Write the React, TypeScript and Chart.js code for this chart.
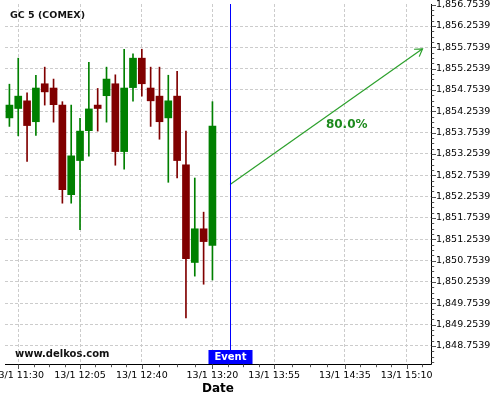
import React, { useEffect, useRef } from 'react';
import { Chart, registerables } from 'chart.js';

Chart.register(...registerables);

// ---------- data ----------
const SYMBOL = 'GC 5 (COMEX)';
const WATERMARK = 'www.delkos.com';
const DATE_PREFIX = '13/1';
const X_TITLE = 'Date';
const EVENT_LABEL = 'Event';
const PROBABILITY = '80.0%';

const TIMES = [
  '11:25', '11:30', '11:35', '11:40', '11:45', '11:50', '11:55', '12:00',
  '12:05', '12:10', '12:15', '12:20', '12:25', '12:30', '12:35', '12:40',
  '12:45', '12:50', '12:55', '13:00', '13:05', '13:10', '13:15', '13:20',
];
const OPEN = [
  1854.10, 1854.32, 1854.50, 1854.01, 1854.90, 1854.80, 1854.40, 1852.30,
  1853.10, 1853.80, 1854.40, 1854.62, 1854.90, 1853.31, 1854.81, 1855.50,
  1854.80, 1854.61, 1854.10, 1854.61, 1853.00, 1850.71, 1851.50, 1851.11,
];
const HIGH = [
  1854.89, 1855.50, 1854.69, 1855.10, 1855.29, 1855.01, 1854.48, 1854.40,
  1854.09, 1855.40, 1854.79, 1855.29, 1855.11, 1855.71, 1855.60, 1855.71,
  1855.29, 1855.29, 1855.10, 1855.19, 1853.79, 1852.69, 1851.89, 1854.48,
];
const LOW = [
  1853.90, 1853.68, 1853.08, 1853.69, 1854.40, 1854.00, 1852.10, 1852.10,
  1851.48, 1853.20, 1853.79, 1854.00, 1852.99, 1852.90, 1854.49, 1854.61,
  1853.90, 1853.60, 1852.59, 1852.69, 1849.41, 1850.39, 1850.20, 1850.30,
];
const CLOSE = [
  1854.40, 1854.61, 1853.92, 1854.80, 1854.71, 1854.41, 1852.42, 1853.21,
  1853.79, 1854.31, 1854.32, 1855.01, 1853.31, 1854.80, 1855.50, 1854.90,
  1854.50, 1854.01, 1854.50, 1853.10, 1850.80, 1851.50, 1851.20, 1853.91,
];

const X_TICK_TIMES = ['11:30', '12:05', '12:40', '13:20', '13:55', '14:35', '15:10'];
const Y_TICKS = [
  1848.7539, 1849.2539, 1849.7539, 1850.2539, 1850.7539, 1851.2539, 1851.7539,
  1852.2539, 1852.7539, 1853.2539, 1853.7539, 1854.2539, 1854.7539, 1855.2539,
  1855.7539, 1856.2539, 1856.7539,
];

const EVENT_TIME = '13:30';
const ARROW_START_TIME = '13:30';
const ARROW_START_PRICE = 1852.54;
const ARROW_END_TIME = '15:19';
const ARROW_END_PRICE = 1855.72;

// ---------- view / style ----------
const X_MIN = -7.5; // minutes relative to 11:30
const X_MAX = 233.8;
const Y_MIN = 1848.33;
const Y_MAX = 1856.77;
const FONT = 'DejaVu Sans';
const GREEN = '#008000';
const RED = '#800000';
const GRID = '#cccccc';
const ARROW_COLOR = '#2ca02c';
const TEXT_GREEN = '#1d8a1d';

const toMin = (t: string) => {
  const [h, m] = t.split(':').map(Number);
  return h * 60 + m - (11 * 60 + 30);
};
const fromMin = (v: number) => {
  const tot = Math.round(v) + 11 * 60 + 30;
  const h = Math.floor(tot / 60);
  const m = tot % 60;
  return `${h}:${String(m).padStart(2, '0')}`;
};

const X_MAJORS = X_TICK_TIMES.map(toMin);
const isMajorX = (v: number) => X_MAJORS.some((t) => Math.abs(t - v) < 1e-6);
const isMajorY = (v: number) => Y_TICKS.some((t) => Math.abs(t - v) < 1e-6);

const xTickValues = (() => {
  const out: number[] = [];
  for (let i = 0; i < X_MAJORS.length; i++) {
    out.push(X_MAJORS[i]);
    if (i < X_MAJORS.length - 1) {
      const a = X_MAJORS[i];
      const b = X_MAJORS[i + 1];
      for (let k = 1; k < 4; k++) out.push(a + ((b - a) * k) / 4);
    }
  }
  const last = X_MAJORS[X_MAJORS.length - 1];
  const prevStep = (last - X_MAJORS[X_MAJORS.length - 2]) / 4;
  for (let v = last + prevStep; v <= X_MAX; v += prevStep) out.push(v);
  return out;
})();

const yTickValues = (() => {
  const out: number[] = [];
  const step = (Y_TICKS[1] - Y_TICKS[0]) / 4;
  for (let v = Y_TICKS[0] - step * 4; v <= Y_MAX + 1e-9; v += step) {
    if (v >= Y_MIN) out.push(v);
  }
  return out;
})();

const fmtPrice = (v: number) =>
  v.toLocaleString('en-US', { minimumFractionDigits: 4, maximumFractionDigits: 4 });

const overlayPlugin = {
  id: 'overlay',
  afterDatasetsDraw(chart: any) {
    const { ctx, chartArea, scales } = chart;
    const xs = scales.x;
    ctx.save();

    // event line
    const ex = Math.round(xs.getPixelForValue(toMin(EVENT_TIME))) + 0.5;
    ctx.strokeStyle = '#0000ff';
    ctx.lineWidth = 1;
    ctx.beginPath();
    ctx.moveTo(ex, chartArea.top);
    ctx.lineTo(ex, chartArea.bottom);
    ctx.stroke();

    // arrow head
    const meta = chart.getDatasetMeta(2);
    const p0 = meta.data[0];
    const p1 = meta.data[1];
    const ang = Math.atan2(p1.y - p0.y, p1.x - p0.x);
    const L = 8.5;
    const spread = (32 * Math.PI) / 180;
    ctx.strokeStyle = ARROW_COLOR;
    ctx.lineWidth = 1.2;
    ctx.beginPath();
    ctx.moveTo(p1.x - L * Math.cos(ang - spread), p1.y - L * Math.sin(ang - spread));
    ctx.lineTo(p1.x, p1.y);
    ctx.lineTo(p1.x - L * Math.cos(ang + spread), p1.y - L * Math.sin(ang + spread));
    ctx.stroke();

    // probability text
    const t = 0.606;
    const tx = p0.x + (p1.x - p0.x) * t;
    const ty = p0.y + (p1.y - p0.y) * t + 23;
    ctx.fillStyle = TEXT_GREEN;
    ctx.font = `bold 12px "${FONT}"`;
    ctx.textAlign = 'center';
    ctx.textBaseline = 'middle';
    ctx.fillText(PROBABILITY, tx, ty);

    // event box
    ctx.font = `bold 10px "${FONT}"`;
    const w = ctx.measureText(EVENT_LABEL).width + 12;
    ctx.fillStyle = '#0000ff';
    ctx.fillRect(ex - w / 2, chartArea.bottom - 14, w, 14);
    ctx.fillStyle = '#ffffff';
    ctx.fillText(EVENT_LABEL, ex, chartArea.bottom - 6.5);

    // title + watermark
    ctx.fillStyle = '#111';
    ctx.textAlign = 'left';
    ctx.font = `bold 9.5px "${FONT}"`;
    ctx.fillText(SYMBOL, chartArea.left + 5, chartArea.top + 11.5);
    ctx.font = `bold 10px "${FONT}"`;
    ctx.fillText(WATERMARK, chartArea.left + 10, chartArea.bottom - 10);
    ctx.restore();
  },
  afterDraw(chart: any) {
    const { ctx, chartArea, scales } = chart;
    ctx.save();
    // axis lines
    ctx.strokeStyle = '#000';
    ctx.lineWidth = 1;
    ctx.setLineDash([]);
    ctx.beginPath();
    const by = Math.round(chartArea.bottom) + 0.5;
    const rx = Math.round(chartArea.right) + 0.5;
    ctx.moveTo(chartArea.left, by);
    ctx.lineTo(rx, by);
    ctx.moveTo(rx, chartArea.top);
    ctx.lineTo(rx, by);
    ctx.stroke();
    // tick marks
    ctx.strokeStyle = '#555';
    ctx.beginPath();
    scales.x.ticks.forEach((tk: any) => {
      const px = Math.round(scales.x.getPixelForValue(tk.value)) + 0.5;
      const len = isMajorX(tk.value) ? 4.5 : 2.7;
      ctx.moveTo(px, by);
      ctx.lineTo(px, by + len);
    });
    scales.y.ticks.forEach((tk: any) => {
      const py = Math.round(scales.y.getPixelForValue(tk.value)) + 0.5;
      const len = isMajorY(tk.value) ? 4.5 : 2.7;
      ctx.moveTo(rx, py);
      ctx.lineTo(rx + len, py);
    });
    ctx.stroke();
    ctx.restore();
  },
};

export default function App() {
  const ref = useRef<HTMLCanvasElement>(null);

  useEffect(() => {
    document.body.style.margin = '0';
    const canvas = ref.current;
    if (!canvas) return;
    const xs = TIMES.map(toMin);
    const colors = OPEN.map((o, i) => (CLOSE[i] >= o ? GREEN : RED));

    const chart = new Chart(canvas, {
      type: 'bar',
      data: {
        datasets: [
          {
            label: 'body',
            data: xs.map((x, i) => ({ x, y: [OPEN[i], CLOSE[i]] })) as any,
            backgroundColor: colors,
            barThickness: 7,
            grouped: false,
            borderWidth: 0,
          } as any,
          {
            label: 'wick',
            data: xs.map((x, i) => ({ x, y: [LOW[i], HIGH[i]] })) as any,
            backgroundColor: colors,
            barThickness: 1,
            grouped: false,
            borderWidth: 0,
          } as any,
          {
            type: 'line',
            label: 'forecast',
            data: [
              { x: toMin(ARROW_START_TIME), y: ARROW_START_PRICE },
              { x: toMin(ARROW_END_TIME), y: ARROW_END_PRICE },
            ],
            borderColor: ARROW_COLOR,
            borderWidth: 1.2,
            pointRadius: 0,
            fill: false,
            tension: 0,
          } as any,
        ],
      },
      options: {
        responsive: false,
        animation: false,
        devicePixelRatio: 1,
        events: [],
        layout: { padding: { left: 5, top: 4, right: 0, bottom: 0 } },
        plugins: {
          legend: { display: false },
          tooltip: { enabled: false },
          title: { display: false },
        },
        scales: {
          x: {
            type: 'linear',
            position: 'bottom',
            min: X_MIN,
            max: X_MAX,
            offset: false,
            afterBuildTicks: (s: any) => {
              s.ticks = xTickValues.map((v) => ({ value: v }));
            },
            afterFit: (s: any) => {
              s.height = 36;
              s.paddingLeft = 0;
              s.paddingRight = 0;
            },
            grid: {
              offset: false,
              drawTicks: false,
              lineWidth: 1,
              color: (c: any) => (c.tick && isMajorX(c.tick.value) ? GRID : 'rgba(0,0,0,0)'),
            },
            border: { display: false, dash: [3, 2] },
            ticks: {
              autoSkip: false,
              maxRotation: 0,
              minRotation: 0,
              padding: 6,
              color: '#000',
              font: { size: 9.5, family: FONT },
              callback: (v: any) => (isMajorX(Number(v)) ? `${DATE_PREFIX} ${fromMin(Number(v))}` : ''),
            },
            title: {
              display: true,
              text: X_TITLE,
              color: '#000',
              font: { size: 12, weight: 'bold', family: FONT },
              padding: { top: 0, bottom: 4 },
            },
          } as any,
          y: {
            type: 'linear',
            position: 'right',
            min: Y_MIN,
            max: Y_MAX,
            afterBuildTicks: (s: any) => {
              s.ticks = yTickValues.map((v) => ({ value: v }));
            },
            afterFit: (s: any) => {
              s.width = 69;
              s.paddingTop = 0;
              s.paddingBottom = 0;
            },
            grid: {
              drawTicks: false,
              lineWidth: 1,
              color: (c: any) =>
                c.tick && isMajorY(c.tick.value) && c.tick.value < Y_MAX - 0.03 ? GRID : 'rgba(0,0,0,0)',
            },
            border: { display: false, dash: [3, 2] },
            ticks: {
              autoSkip: false,
              padding: 5,
              color: '#000',
              font: { size: 9.5, family: FONT },
              callback: (v: any) => (isMajorY(Number(v)) ? fmtPrice(Number(v)) : ''),
            },
          } as any,
        },
      },
      plugins: [overlayPlugin],
    });

    return () => chart.destroy();
  }, []);

  return <canvas ref={ref} width={500} height={400} style={{ display: 'block' }} />;
}
